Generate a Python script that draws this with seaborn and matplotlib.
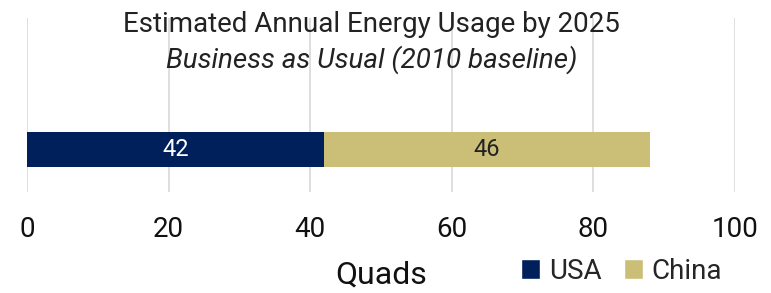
import matplotlib
matplotlib.use("Agg")
import matplotlib.pyplot as plt
import seaborn as sns
import pandas as pd
from matplotlib.patches import Patch

sns.set_theme(style="white")
plt.rcParams['font.family'] = ['Roboto', 'DejaVu Sans']

# data
countries = ["USA", "China"]
values = [42, 46]
colors = ["#00205B", "#CBBF78"]
label_colors = ["white", "#222222"]
category = "2025"

fig = plt.figure(figsize=(7.71, 2.93), dpi=100)
ax = fig.add_axes([0.035, 0.345, 0.918, 0.594])

# stacked bars drawn as cumulative totals, largest first
totals = pd.Series(values).cumsum().tolist()
for i in reversed(range(len(countries))):
    df = pd.DataFrame({"cat": [category], "val": [totals[i]]})
    sns.barplot(data=df, x="val", y="cat", color=colors[i], width=0.2,
                saturation=1, ax=ax, orient="h", linewidth=0)

# segment labels
starts = [0] + totals[:-1]
for s, v, c in zip(starts, values, label_colors):
    ax.text(s + v / 2, 0, str(v), ha="center", va="center", fontsize=17, color=c)

ax.set_xlim(0, 100)
ax.set_ylim(0.244, -0.756)
ax.set_xticks(range(0, 101, 20))
ax.tick_params(axis="x", labelsize=20, length=0, pad=17, colors="#111111")
ax.set_yticks([])
ax.set_ylabel("")
ax.set_xlabel("Quads", fontsize=23, labelpad=13, color="#111111")
ax.grid(axis="x", color="#d9d9d9", linewidth=1.2)
ax.set_axisbelow(True)
for sp in ax.spines.values():
    sp.set_visible(False)

fig.text(0.482, 0.915, "Estimated Annual Energy Usage by 2025", ha="center", va="center",
         fontsize=20, color="#222222")
fig.text(0.482, 0.795, "Business as Usual (2010 baseline)", ha="center", va="center",
         fontsize=20, style="italic", color="#222222")

handles = [Patch(facecolor=c, label=n) for n, c in zip(countries, colors)]
fig.legend(handles=handles, loc="center", bbox_to_anchor=(0.806, 0.075), ncol=2,
           frameon=False, fontsize=20, handlelength=0.7, handleheight=0.7,
           handletextpad=0.3, columnspacing=0.8)

fig.savefig("out.png", dpi=100)
